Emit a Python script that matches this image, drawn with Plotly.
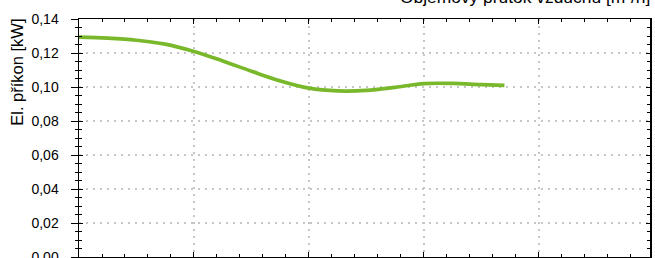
import plotly.graph_objects as go

# Data
flow = [0, 12.5, 25, 37.5, 50, 62.5, 75, 87.5, 100, 112.5, 125, 137.5, 150, 162.5, 175, 185]
power = [0.1293, 0.1287, 0.1275, 0.1252, 0.1209, 0.1153, 0.1093, 0.1036, 0.0993, 0.0977, 0.0980, 0.0998, 0.1020, 0.1021, 0.1014, 0.1010]

x_title = "Objemový průtok vzduchu [m³/h]"
y_title = "El. příkon [kW]"
y_ticks = [0, 0.02, 0.04, 0.06, 0.08, 0.10, 0.12, 0.14]

FONT = "Liberation Sans, Arial, sans-serif"
GRID = "#c6c6c6"

fig = go.Figure()
fig.add_trace(go.Scatter(
    x=flow, y=power, mode="lines",
    line=dict(color="#78b82a", width=3.7, shape="spline", smoothing=1.0),
    showlegend=False, hoverinfo="skip",
))
# invisible helper trace so the outer-tick axis is drawn
fig.add_trace(go.Scatter(x=[flow[0]], y=[power[0]], yaxis="y2", mode="markers",
                         marker=dict(opacity=0), showlegend=False, hoverinfo="skip"))

fig.update_layout(
    template="none",
    width=655, height=258,
    margin=dict(l=79, r=5, t=19, b=1, autoexpand=False),
    plot_bgcolor="white", paper_bgcolor="white",
    separators=", ",
    font=dict(family=FONT, size=14, color="black"),
    xaxis=dict(
        automargin=False,
        range=[0, 248.3], dtick=50, tick0=0,
        showticklabels=False,
        showgrid=True, gridcolor=GRID, gridwidth=2, griddash="2px,5px",
        ticks="inside", ticklen=5, tickcolor="black", tickwidth=1,
        minor=dict(dtick=10, ticks="inside", ticklen=3, tickcolor="black", showgrid=False),
        showline=True, linecolor="black", linewidth=1.5, mirror="ticks",
        zeroline=False,
    ),
    yaxis=dict(
        automargin=False,
        range=[0, 0.14], tickvals=y_ticks, tickformat=".2f",
        showgrid=True, gridcolor=GRID, gridwidth=2, griddash="2px,5px",
        ticks="inside", ticklen=4, tickcolor="black", tickwidth=1,
        minor=dict(dtick=0.005, ticks="inside", ticklen=3, tickcolor="black", showgrid=False),
        showline=True, linecolor="black", linewidth=1.5, mirror="ticks",
        zeroline=False, ticklabelstandoff=16, ticklabeloverflow="allow",
        tickfont=dict(size=14),
    ),
    yaxis2=dict(
        automargin=False,
        overlaying="y", side="left", anchor="x", matches="y",
        range=[0, 0.14], tickvals=y_ticks,
        showticklabels=False, showgrid=False, zeroline=False,
        ticks="outside", ticklen=7, tickcolor="black", tickwidth=1,
        minor=dict(dtick=0.005, ticks="outside", ticklen=3, tickcolor="black", showgrid=False),
        showline=False,
    ),
    annotations=[
        dict(text=x_title, xref="paper", yref="paper", x=1.0035, y=1.04,
             xanchor="right", yanchor="bottom", showarrow=False,
             font=dict(size=17.4, family=FONT)),
        dict(text=y_title, xref="paper", yref="paper", x=-0.11, y=1.008,
             xanchor="center", yanchor="top", textangle=-90, showarrow=False,
             font=dict(size=16.5, family=FONT)),
    ],
)

fig.write_html("out.html",
               config={"displayModeBar": False, "staticPlot": True},
               post_script="document.body.style.margin='0';document.body.style.overflow='hidden';")
